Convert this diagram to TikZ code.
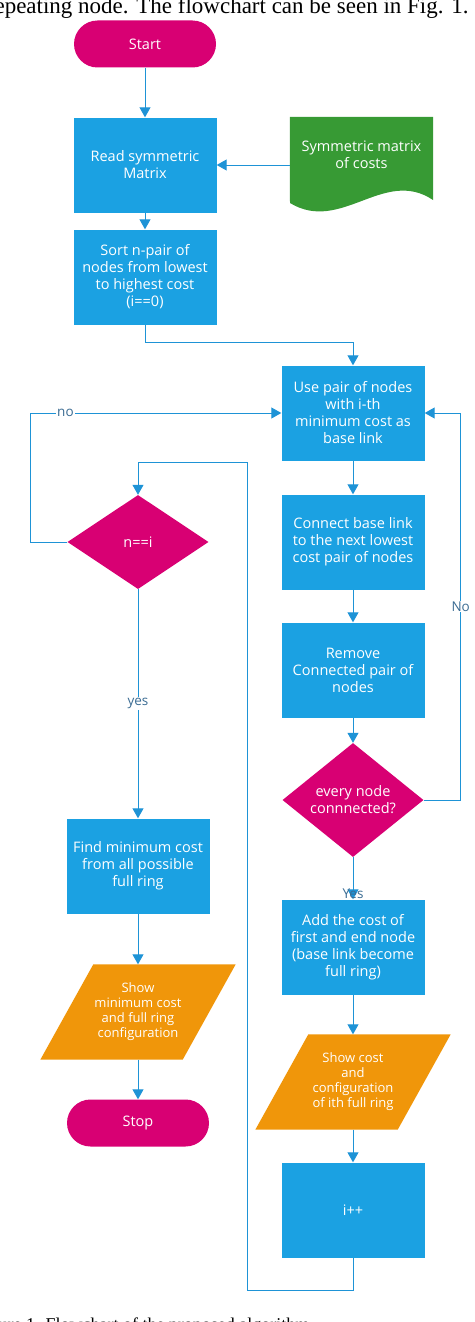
\documentclass[tikz,border=0pt]{standalone}
\usepackage{fontspec}
\setmainfont{Liberation Serif}
\newfontfamily\chartfont{Open Sans}
\usetikzlibrary{arrows.meta,backgrounds,shapes.geometric}
\definecolor{boxblue}{HTML}{1BA1E2}
\definecolor{linkblue}{HTML}{1E93D6}
\definecolor{termred}{HTML}{D80073}
\definecolor{docgreen}{HTML}{379A34}
\definecolor{ioorange}{HTML}{F0960A}
\definecolor{labelblue}{HTML}{3B6C93}
\begin{document}
\begin{tikzpicture}[x=1pt, y=-1pt, node distance=128pt,
    >={Triangle[width=11pt,length=10pt]},
    box/.style={rectangle, fill=boxblue, text=white, minimum width=143pt, minimum height=95pt, inner sep=1pt, align=center, font=\chartfont\fontsize{14.5}{17}\selectfont},
    term/.style={rectangle, rounded corners=23.5pt, fill=termred, text=white, minimum width=142pt, minimum height=47pt, font=\chartfont\fontsize{14.5}{17}\selectfont},
    decision/.style={diamond, fill=termred, text=white, minimum width=141pt, minimum height=94pt, inner sep=0pt, align=center, font=\chartfont\fontsize{14.5}{17}\selectfont},
    io node/.style={rectangle, text=white, minimum width=142pt, minimum height=95pt, inner sep=0pt, align=center, font=\chartfont\fontsize{13}{15}\selectfont},
    doc node/.style={rectangle, text=white, minimum width=143pt, minimum height=76pt, inner sep=0pt, align=center, font=\chartfont\fontsize{14.5}{17}\selectfont},
    flow/.style={->, draw=linkblue, line width=1pt},
    lbl/.style={fill=white, text=labelblue, inner sep=1pt, font=\chartfont\fontsize{13.5}{15}\selectfont}]
  \useasboundingbox (0,0) rectangle (474,1322);
  \clip (0,0) rectangle (474,1322);

  \node[anchor=base east, font=\fontsize{23}{25}\selectfont] (toptext) at (472,14) {epeating node. The flowchart can be seen in Fig. 1.};
  \node[anchor=base east, font=\fontsize{18}{20}\selectfont] (caption) at (313,1330) {Figure 1. Flowchart of the proposed algorithm};

  \node[term] (start) at (145,44) {Start};
  \node[box] (read) [below of=start, node distance=121pt] {Read symmetric\\Matrix};
  \node[box] (sort) [below of=read, node distance=112pt] {Sort n-pair of\\nodes from lowest\\to highest cost\\(i==0)};
  \node[doc node] (matrix) at (361.5,155) {Symmetric matrix\\of costs};

  \node[box] (use) at (353,413) {Use pair of nodes\\with i-th\\minimum cost as\\base link};
  \node[box] (connect) [below of=use, node distance=129pt] {Connect base link\\to the next lowest\\cost pair of nodes};
  \node[box] (remove) [below of=connect] {Remove\\Connected pair of\\nodes};
  \node[decision] (every) [below of=remove, node distance=130pt] {every node\\connnected?};
  \node[box] (add) [below of=every, node distance=147pt] {Add the cost of\\first and end node\\(base link become\\full ring)};
  \node[io node] (showcost) [below of=add, node distance=135pt] {Show cost\\and\\configuration\\of ith full ring};
  \node[box] (inc) [below of=showcost] {i++};

  \node[decision] (ni) at (138,542) {n==i};
  \node[box] (find) [below of=ni, node distance=324pt] {Find minimum cost\\from all possible\\full ring};
  \node[io node] (showmin) [below of=find, node distance=146pt] {Show\\minimum cost\\and full ring\\configuration};
  \node[term] (stop) [below of=showmin, node distance=111pt] {Stop};

  \begin{scope}[on background layer]
    \fill[docgreen] (matrix.north west) -- (matrix.north east) -- (433,200)
      .. controls (384,167) and (341,234) .. (290,203) -- cycle;
    \foreach \n in {showmin,showcost}
      \fill[ioorange] ([xshift=-26.5pt]\n.south west) -- ([xshift=-26.5pt]\n.south east)
        -- ([xshift=26.5pt]\n.north east) -- ([xshift=26.5pt]\n.north west) -- cycle;
  \end{scope}

  \coordinate (loop) at (247,462);

  \draw[flow] (start) -- (read);
  \draw[flow] (matrix.west |- read) -- (read);
  \draw[flow] (read) -- (sort);
  \draw[flow] (sort.south) -- ++(0,18) -| (use.north);
  \draw[flow] (use) -- (connect);
  \draw[flow] (connect) -- (remove);
  \draw[flow] (remove) -- (every);
  \draw[flow] (every) -- node[pos=0.87, text=labelblue, inner sep=0pt, font=\chartfont\fontsize{13.5}{15}\selectfont] {Yes} (add);
  \draw[flow] (every.east) -- ++(37,0) |- node[lbl, pos=0.25] {No} (use.east);
  \draw[flow] (add) -- (showcost);
  \draw[flow] (showcost) -- (inc);
  \draw[flow] (inc.south) -- ++(0,33) -| (loop) -| (ni.north);
  \draw[flow] (ni.west) -- ++(-37,0) |- node[lbl, pos=0.57] {no} (use.west);
  \draw[flow] (ni) -- node[lbl] {yes} (find);
  \draw[flow] (find) -- (showmin);
  \draw[flow] (showmin) -- (stop);
\end{tikzpicture}
\end{document}
